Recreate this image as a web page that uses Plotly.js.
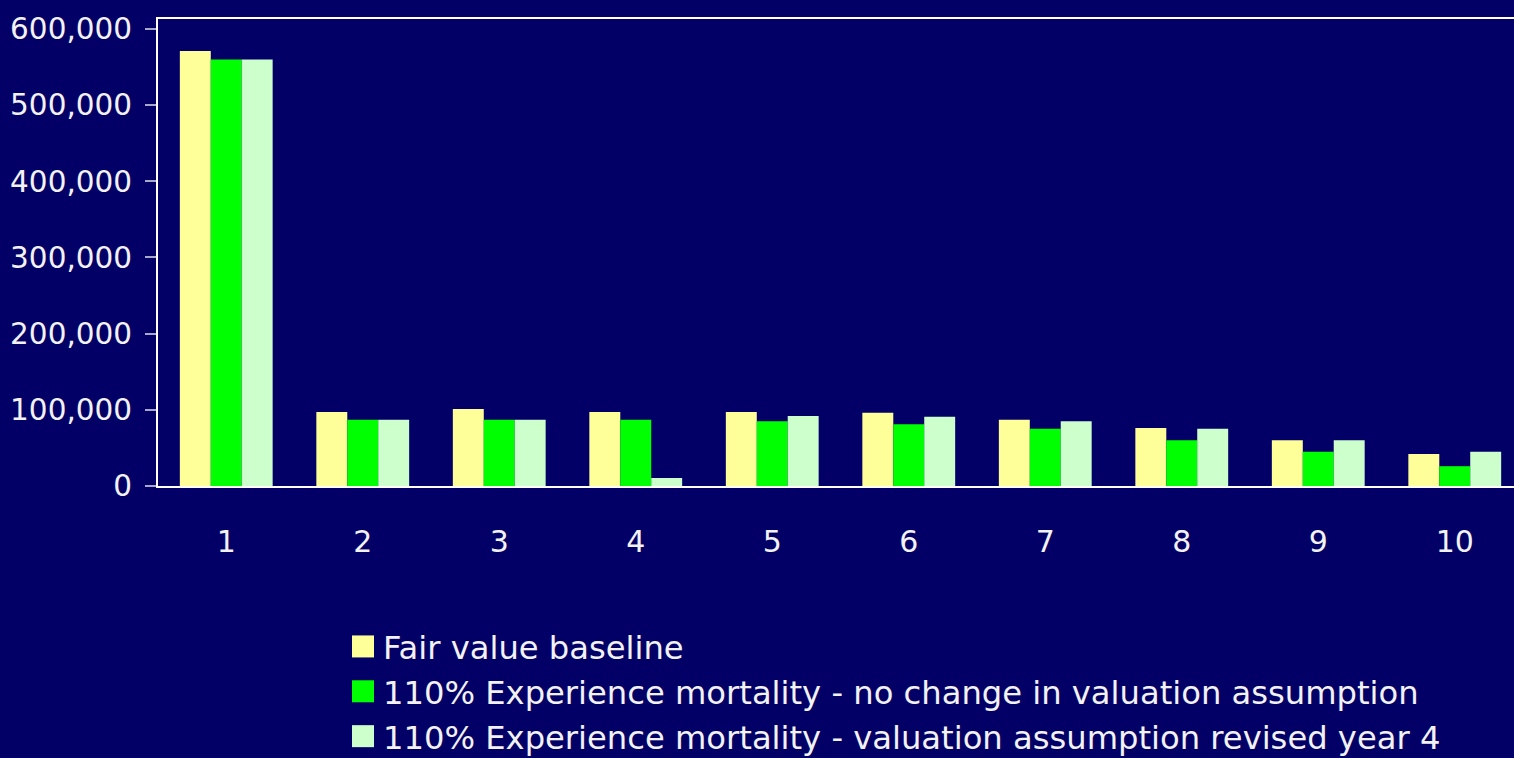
<!DOCTYPE html>
<html>
<head>
<meta charset="utf-8">
<script src="https://cdn.plot.ly/plotly-3.0.1.min.js"></script>
<style>
  html, body { margin: 0; padding: 0; background: #020066; }
  #chart { width: 1514px; height: 758px; }
</style>
</head>
<body>
<div id="chart"></div>
<script>
const years = ['1', '2', '3', '4', '5', '6', '7', '8', '9', '10'];
const fairValueBaseline = [571000, 97000, 101000, 97000, 97000, 96000, 87000, 76000, 60000, 42000];
const noChangeValuation = [560000, 87000, 87000, 87000, 85000, 81000, 75000, 60000, 45000, 26000];
const revisedYear4 = [560000, 87000, 87000, 10500, 92000, 91000, 85000, 75000, 60000, 45000];
const seriesNames = [
  'Fair value baseline',
  '110% Experience mortality - no change in valuation assumption',
  '110% Experience mortality - valuation assumption revised year 4'
];
const seriesColors = ['#FFFF99', '#00FF00', '#CCFFCC'];
const yTickVals = [0, 100000, 200000, 300000, 400000, 500000, 600000];
const yTickText = ['0', '100,000', '200,000', '300,000', '400,000', '500,000', '600,000'];

const seriesValues = [fairValueBaseline, noChangeValuation, revisedYear4];
const traces = seriesValues.map((vals, i) => ({
  type: 'bar',
  x: years,
  y: vals,
  name: seriesNames[i],
  marker: { color: seriesColors[i], line: { width: 0 } },
  hoverinfo: 'skip'
}));

const textColor = '#F2F2F2';
const layout = {
  width: 1514,
  height: 758,
  paper_bgcolor: '#020066',
  plot_bgcolor: '#020066',
  font: { family: 'DejaVu Sans, sans-serif', color: textColor, size: 30 },
  margin: { l: 158, r: 0, t: 19, b: 272, autoexpand: false },
  barmode: 'group',
  bargap: 0.32,
  bargroupgap: 0,
  showlegend: true,
  legend: {
    xref: 'container', yref: 'container',
    x: 343 / 1514, y: 1 - 619 / 758,
    xanchor: 'left', yanchor: 'top',
    bgcolor: 'rgba(0,0,0,0)',
    font: { family: 'DejaVu Sans, sans-serif', size: 32.2, color: textColor },
    tracegroupgap: 0,
    traceorder: 'normal'
  },
  xaxis: {
    type: 'category',
    range: [-0.5, 9.434],
    showline: true, linecolor: '#FFFFFF', linewidth: 2,
    mirror: true,
    ticks: '',
    showgrid: false, zeroline: false,
    tickfont: { size: 30, color: textColor },
    ticklabelstandoff: 28
  },
  yaxis: {
    range: [0, 613000],
    tickmode: 'array',
    tickvals: yTickVals,
    ticktext: yTickText,
    showline: true, linecolor: '#FFFFFF', linewidth: 2,
    ticks: 'outside', ticklen: 11, tickcolor: '#A8A8C8', tickwidth: 2,
    showgrid: false, zeroline: false,
    tickfont: { size: 29.5, color: textColor },
    ticklabelstandoff: 7
  }
};

Plotly.newPlot('chart', traces, layout, { staticPlot: true, displayModeBar: false }).then(() => {
  document.querySelectorAll('.legendpoints path').forEach(p => {
    p.setAttribute('d', 'M11,11H-11V-11H11Z');
  });
});
</script>
</body>
</html>
